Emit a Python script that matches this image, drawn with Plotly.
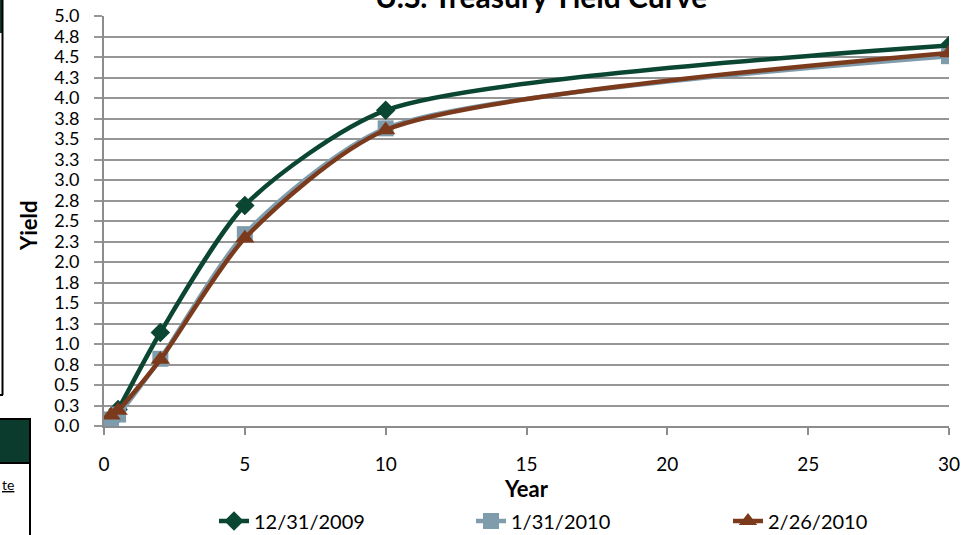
import plotly.graph_objects as go

# ---- data ----
years = [0.25, 0.5, 2, 5, 10, 30]
yield_2009_12_31 = [0.06, 0.20, 1.14, 2.69, 3.85, 4.64]
yield_2010_01_31 = [0.08, 0.14, 0.82, 2.34, 3.63, 4.51]
yield_2010_02_26 = [0.13, 0.19, 0.81, 2.29, 3.61, 4.55]
series_names = ["12/31/2009", "1/31/2010", "2/26/2010"]

y_tick_vals = [i * 0.25 for i in range(21)]
y_tick_text = ["0.0", "0.3", "0.5", "0.8", "1.0", "1.3", "1.5", "1.8", "2.0", "2.3", "2.5",
               "2.8", "3.0", "3.3", "3.5", "3.8", "4.0", "4.3", "4.5", "4.8", "5.0"]
x_tick_vals = [0, 5, 10, 15, 20, 25, 30]

title_text = "U.S. Treasury Yield Curve"

# ---- geometry helpers (pixel -> paper) ----
W, H = 976, 535
ML, MR, MT, MB = 104, 27, 16, 109
PW, PH = W - ML - MR, H - MT - MB


def px(x):
    return (x - ML) / PW


def py(y):
    return (H - MB - y) / PH


FONT = "Lato, 'Open Sans', sans-serif"
GREEN = "#0b4632"
BLUE = "#7f9cac"
BROWN = "#7c3a1d"
SMOOTH = 0.7

fig = go.Figure()
fig.add_trace(go.Scatter(x=years, y=yield_2009_12_31, name=series_names[0], mode="lines+markers",
                         line=dict(color=GREEN, width=4.5, shape="spline", smoothing=SMOOTH),
                         marker=dict(symbol="diamond", size=15, color=GREEN)))
fig.add_trace(go.Scatter(x=years, y=yield_2010_01_31, name=series_names[1], mode="lines+markers",
                         line=dict(color=BLUE, width=4.5, shape="spline", smoothing=SMOOTH),
                         marker=dict(symbol="square", size=16, color=BLUE)))
fig.add_trace(go.Scatter(x=years, y=yield_2010_02_26, name=series_names[2], mode="lines+markers",
                         line=dict(color=BROWN, width=4.5, shape="spline", smoothing=SMOOTH),
                         marker=dict(symbol="triangle-up", size=17, color=BROWN)))

fig.update_layout(
    width=W, height=H,
    margin=dict(l=ML, r=MR, t=MT, b=MB, autoexpand=False),
    paper_bgcolor="white", plot_bgcolor="white",
    font=dict(family=FONT, color="black"),
    showlegend=True,
    legend=dict(orientation="h", x=px(214), xanchor="left", y=py(521), yanchor="middle",
                font=dict(size=20), entrywidth=212, entrywidthmode="pixels",
                bgcolor="rgba(0,0,0,0)", traceorder="normal"),
    xaxis=dict(range=[0, 30], tickvals=x_tick_vals, showgrid=False, zeroline=False,
               showline=True, linecolor="#8c8c8c", linewidth=2,
               ticks="outside", ticklen=7, tickwidth=2, tickcolor="#8c8c8c",
               tickfont=dict(size=19), ticklabelstandoff=13,
               title=dict(text="<b>Year</b>", font=dict(size=22), standoff=3)),
    yaxis=dict(range=[0, 5], tickvals=y_tick_vals, ticktext=y_tick_text,
               showgrid=True, gridcolor="#969696", gridwidth=2, zeroline=False,
               showline=True, linecolor="#8c8c8c", linewidth=2,
               ticks="outside", ticklen=8, tickwidth=2, tickcolor="#969696",
               tickfont=dict(size=18), ticklabelstandoff=11),
)

# title (partially cut off at the top)
fig.add_annotation(text="<b>" + title_text + "</b>", xref="paper", yref="paper",
                   x=px(541), y=py(16), xanchor="center", yanchor="bottom",
                   showarrow=False, font=dict(size=30, family=FONT))
# y axis title
fig.add_annotation(text="<b>Yield</b>", xref="paper", yref="paper",
                   x=px(28), y=py(226), xanchor="center", yanchor="middle",
                   textangle=-90, showarrow=False, font=dict(size=22, family=FONT))

# page artifacts on the left edge
shapes = [
    dict(type="rect", xref="paper", yref="paper", x0=px(-5), x1=px(3), y0=py(33), y1=py(-5),
         fillcolor="#0b3b2c", line=dict(width=0), layer="above"),
    dict(type="line", xref="paper", yref="paper", x0=px(2.5), x1=px(2.5), y0=py(395), y1=py(-5),
         line=dict(color="black", width=2), layer="above"),
    dict(type="line", xref="paper", yref="paper", x0=px(-5), x1=px(3), y0=py(395), y1=py(395),
         line=dict(color="black", width=2), layer="above"),
    dict(type="rect", xref="paper", yref="paper", x0=px(-5), x1=px(30), y0=py(463), y1=py(419),
         fillcolor="#0b3b2c", line=dict(color="black", width=2), layer="above"),
    dict(type="line", xref="paper", yref="paper", x0=px(30), x1=px(30), y0=py(540), y1=py(419),
         line=dict(color="black", width=2), layer="above"),
]
fig.update_layout(shapes=shapes)
fig.add_annotation(text="<u>te</u>", xref="paper", yref="paper", x=px(0), y=py(485),
                   xanchor="left", yanchor="middle", showarrow=False,
                   font=dict(size=14, family=FONT))

fig.write_html("out.html", config={"displayModeBar": False},
               post_script="document.body.style.margin='0';document.body.style.overflow='hidden';")
